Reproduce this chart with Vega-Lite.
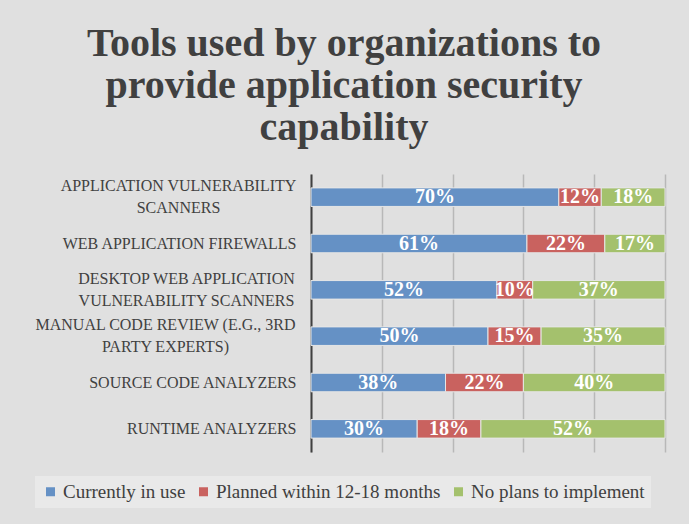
{
  "$schema": "https://vega.github.io/schema/vega-lite/v6.json",
  "autosize": {"type": "none"},
  "width": 354,
  "height": 278,
  "padding": {"left": 311, "top": 174, "right": 24, "bottom": 72},
  "background": "#e0e0e0",
  "title": {
    "text": ["Tools used by organizations to", "provide application security", "capability"],
    "anchor": "middle",
    "dx": -144,
    "offset": 26,
    "font": "Liberation Serif",
    "fontSize": 40,
    "fontWeight": "bold",
    "lineHeight": 42,
    "color": "#404040"
  },
  "data": {
    "values": [
      {"tool": "APPLICATION VULNERABILITY|SCANNERS", "series": "Currently in use", "k": 1, "v": 0.70},
      {"tool": "APPLICATION VULNERABILITY|SCANNERS", "series": "Planned within 12-18 months", "k": 2, "v": 0.12},
      {"tool": "APPLICATION VULNERABILITY|SCANNERS", "series": "No plans to implement", "k": 3, "v": 0.18},
      {"tool": "WEB APPLICATION FIREWALLS", "series": "Currently in use", "k": 1, "v": 0.61},
      {"tool": "WEB APPLICATION FIREWALLS", "series": "Planned within 12-18 months", "k": 2, "v": 0.22},
      {"tool": "WEB APPLICATION FIREWALLS", "series": "No plans to implement", "k": 3, "v": 0.17},
      {"tool": "DESKTOP WEB APPLICATION|VULNERABILITY SCANNERS", "series": "Currently in use", "k": 1, "v": 0.52},
      {"tool": "DESKTOP WEB APPLICATION|VULNERABILITY SCANNERS", "series": "Planned within 12-18 months", "k": 2, "v": 0.10},
      {"tool": "DESKTOP WEB APPLICATION|VULNERABILITY SCANNERS", "series": "No plans to implement", "k": 3, "v": 0.37},
      {"tool": "MANUAL CODE REVIEW (E.G., 3RD|PARTY EXPERTS)", "series": "Currently in use", "k": 1, "v": 0.50},
      {"tool": "MANUAL CODE REVIEW (E.G., 3RD|PARTY EXPERTS)", "series": "Planned within 12-18 months", "k": 2, "v": 0.15},
      {"tool": "MANUAL CODE REVIEW (E.G., 3RD|PARTY EXPERTS)", "series": "No plans to implement", "k": 3, "v": 0.35},
      {"tool": "SOURCE CODE ANALYZERS", "series": "Currently in use", "k": 1, "v": 0.38},
      {"tool": "SOURCE CODE ANALYZERS", "series": "Planned within 12-18 months", "k": 2, "v": 0.22},
      {"tool": "SOURCE CODE ANALYZERS", "series": "No plans to implement", "k": 3, "v": 0.40},
      {"tool": "RUNTIME ANALYZERS", "series": "Currently in use", "k": 1, "v": 0.30},
      {"tool": "RUNTIME ANALYZERS", "series": "Planned within 12-18 months", "k": 2, "v": 0.18},
      {"tool": "RUNTIME ANALYZERS", "series": "No plans to implement", "k": 3, "v": 0.52}
    ]
  },
  "encoding": {
    "y": {
      "field": "tool",
      "type": "nominal",
      "sort": null,
      "scale": {"paddingInner": 0.6, "paddingOuter": 0.3},
      "axis": {
        "title": null,
        "labelExpr": "split(datum.label, '|')",
        "labelFont": "Liberation Serif",
        "labelFontSize": 16,
        "labelColor": "#404040",
        "labelLineHeight": 22,
        "labelAlign": {"condition": {"test": "indexof(datum.value, '|') >= 0", "value": "center"}, "value": "right"},
        "labelOffset": {"condition": {"test": "indexof(datum.value, '|') >= 0", "value": -11}, "value": 0},
        "labelPadding": {
          "condition": [
            {"test": "datum.value === 'APPLICATION VULNERABILITY|SCANNERS'", "value": 133},
            {"test": "datum.value === 'DESKTOP WEB APPLICATION|VULNERABILITY SCANNERS'", "value": 125},
            {"test": "datum.value === 'MANUAL CODE REVIEW (E.G., 3RD|PARTY EXPERTS)'", "value": 146}
          ],
          "value": 15
        },
        "labelLimit": 320,
        "ticks": false,
        "domain": true,
        "domainColor": "#404040",
        "domainWidth": 2,
        "grid": false
      }
    },
    "x": {
      "field": "v",
      "type": "quantitative",
      "stack": "normalize",
      "scale": {"domain": [0, 1]},
      "axis": {
        "title": null,
        "labels": false,
        "ticks": false,
        "domain": false,
        "grid": true,
        "values": [0, 0.2, 0.4, 0.6, 0.8, 1],
        "gridColor": "#b8b8b8",
        "gridWidth": 1.5
      }
    },
    "order": {"field": "k", "type": "quantitative"}
  },
  "layer": [
    {
      "mark": {"type": "bar", "stroke": "#e6e6e6", "strokeWidth": 1},
      "encoding": {
        "color": {
          "field": "series",
          "type": "nominal",
          "scale": {
            "domain": ["Currently in use", "Planned within 12-18 months", "No plans to implement"],
            "range": ["#6591c5", "#c9625f", "#a4c16d"]
          },
          "legend": {
            "title": null,
            "orient": "none",
            "direction": "horizontal",
            "legendX": -276,
            "legendY": 302,
            "symbolType": "square",
            "symbolSize": 81,
            "symbolStrokeWidth": 0,
            "labelFont": "Liberation Serif",
            "labelFontSize": 19,
            "labelColor": "#404040",
            "labelLimit": 400,
            "labelOffset": 3,
            "columnPadding": 8,
            "symbolOffset": 0,
            "fillColor": "#e9e9e9",
            "padding": 6
          }
        }
      }
    },
    {
      "mark": {
        "type": "text",
        "color": "white",
        "font": "Liberation Serif",
        "fontSize": 20,
        "fontWeight": "bold",
        "baseline": "middle",
        "align": "center"
      },
      "encoding": {
        "x": {"field": "v", "type": "quantitative", "stack": "normalize", "bandPosition": 0.5},
        "text": {"field": "v", "type": "quantitative", "format": ".0%"}
      }
    }
  ],
  "config": {"view": {"stroke": null}}
}
